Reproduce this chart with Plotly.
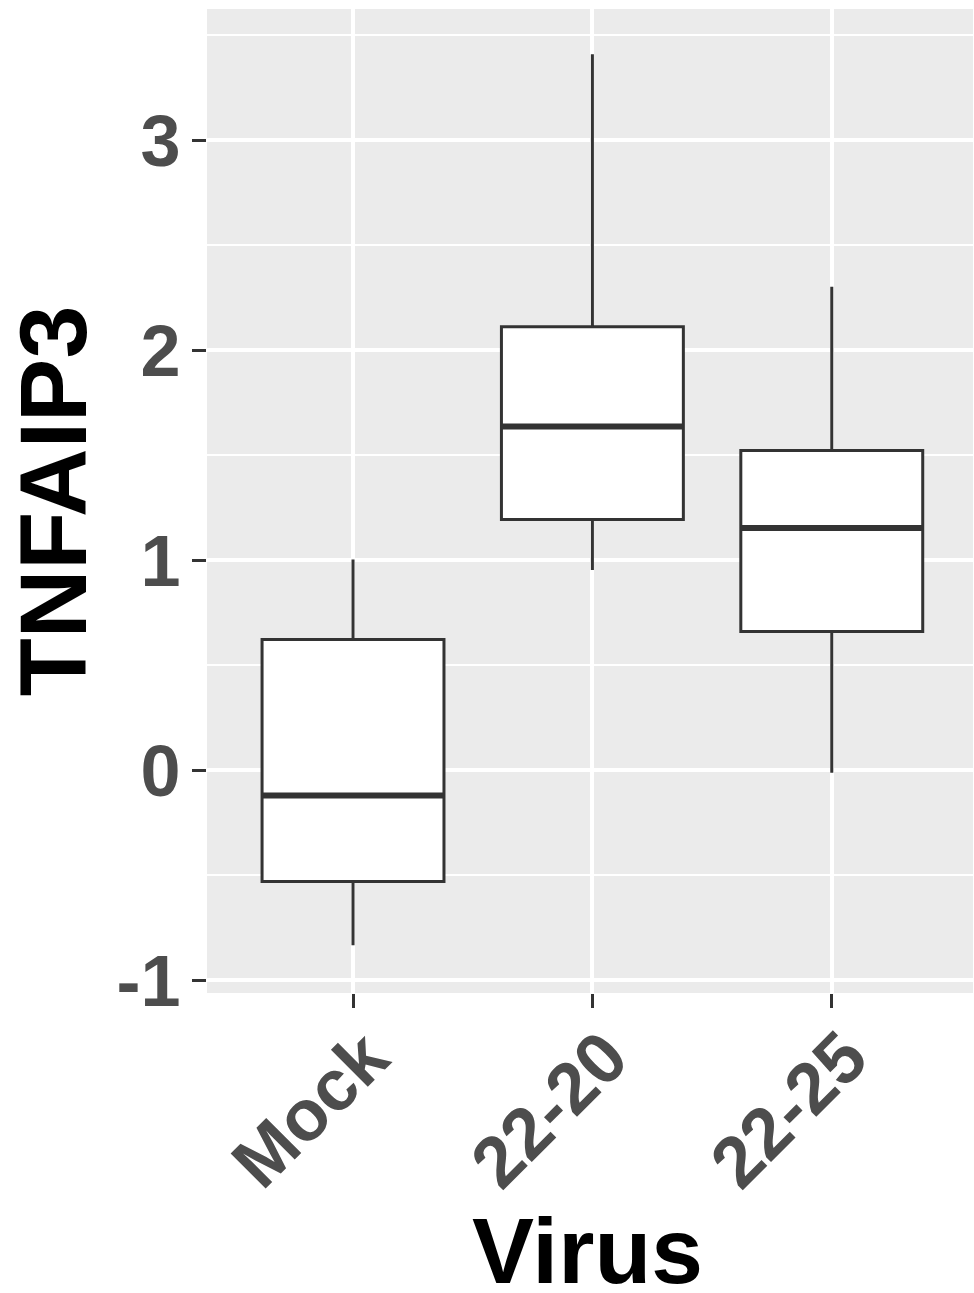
import plotly.graph_objects as go

categories = ["Mock", "22-20", "22-25"]
lower_whisker = [-0.833, 0.954, -0.011]
q1 = [-0.529, 1.195, 0.662]
median = [-0.119, 1.638, 1.154]
q3 = [0.624, 2.113, 1.524]
upper_whisker = [1.005, 3.410, 2.303]
y_ticks = [-1, 0, 1, 2, 3]
y_tick_labels = ["-1", "0", "1", "2", "3"]
x_title = "Virus"
y_title = "TNFAIP3"

xpos = list(range(1, len(categories) + 1))
BOX_W = 0.76
LINE = "#333333"
FONT = "Liberation Sans, Arial, sans-serif"

fig = go.Figure()
fig.add_trace(go.Box(
    x=xpos, q1=q1, median=median, q3=q3,
    lowerfence=lower_whisker, upperfence=upper_whisker,
    width=BOX_W, whiskerwidth=0,
    fillcolor="white", line=dict(color=LINE, width=3),
    boxpoints=False, showlegend=False, hoverinfo="skip",
))
# thicker median segments (ggplot style)
for xi, m in zip(xpos, median):
    fig.add_trace(go.Scatter(
        x=[xi - BOX_W / 2, xi + BOX_W / 2], y=[m, m], mode="lines",
        line=dict(color=LINE, width=6), showlegend=False, hoverinfo="skip",
    ))

fig.update_layout(
    width=974, height=1293,
    margin=dict(l=207, r=1, t=9, b=300),
    paper_bgcolor="white", plot_bgcolor="#EBEBEB",
    font=dict(family=FONT),
)
fig.add_annotation(
    text=x_title, xref="paper", yref="paper", x=0.497, y=-0.262,
    xanchor="center", yanchor="middle", showarrow=False,
    font=dict(size=93, color="black", family=FONT, weight="bold"),
)
fig.update_xaxes(
    range=[0.39, 3.59], tickvals=xpos, ticktext=categories, automargin=False,
    tickangle=-45, ticks="outside", ticklen=14, tickwidth=3, tickcolor=LINE,
    ticklabelstandoff=-22, ticklabelshift=14,
    tickfont=dict(size=72, color="#4D4D4D", family=FONT, weight="bold"),
    showgrid=True, gridcolor="white", gridwidth=4, zeroline=False, showline=False,
)
fig.update_yaxes(
    range=[-1.060, 3.626], tickvals=y_ticks, ticktext=y_tick_labels, automargin=False,
    ticks="outside", ticklen=14, tickwidth=3, tickcolor=LINE, ticklabelstandoff=-3,
    tickfont=dict(size=72, color="#4D4D4D", family=FONT, weight="bold"),
    showgrid=True, gridcolor="white", gridwidth=4, zeroline=False, showline=False,
    minor=dict(tickvals=[-0.5, 0.5, 1.5, 2.5, 3.5], showgrid=True, gridcolor="white", gridwidth=2, ticks=""),
    title=dict(text=y_title, font=dict(size=95, color="black", family=FONT, weight="bold"), standoff=6),
)
fig.write_html("out.html", config={"displayModeBar": False},
               post_script="document.body.style.margin='0';document.body.style.overflow='hidden';")
